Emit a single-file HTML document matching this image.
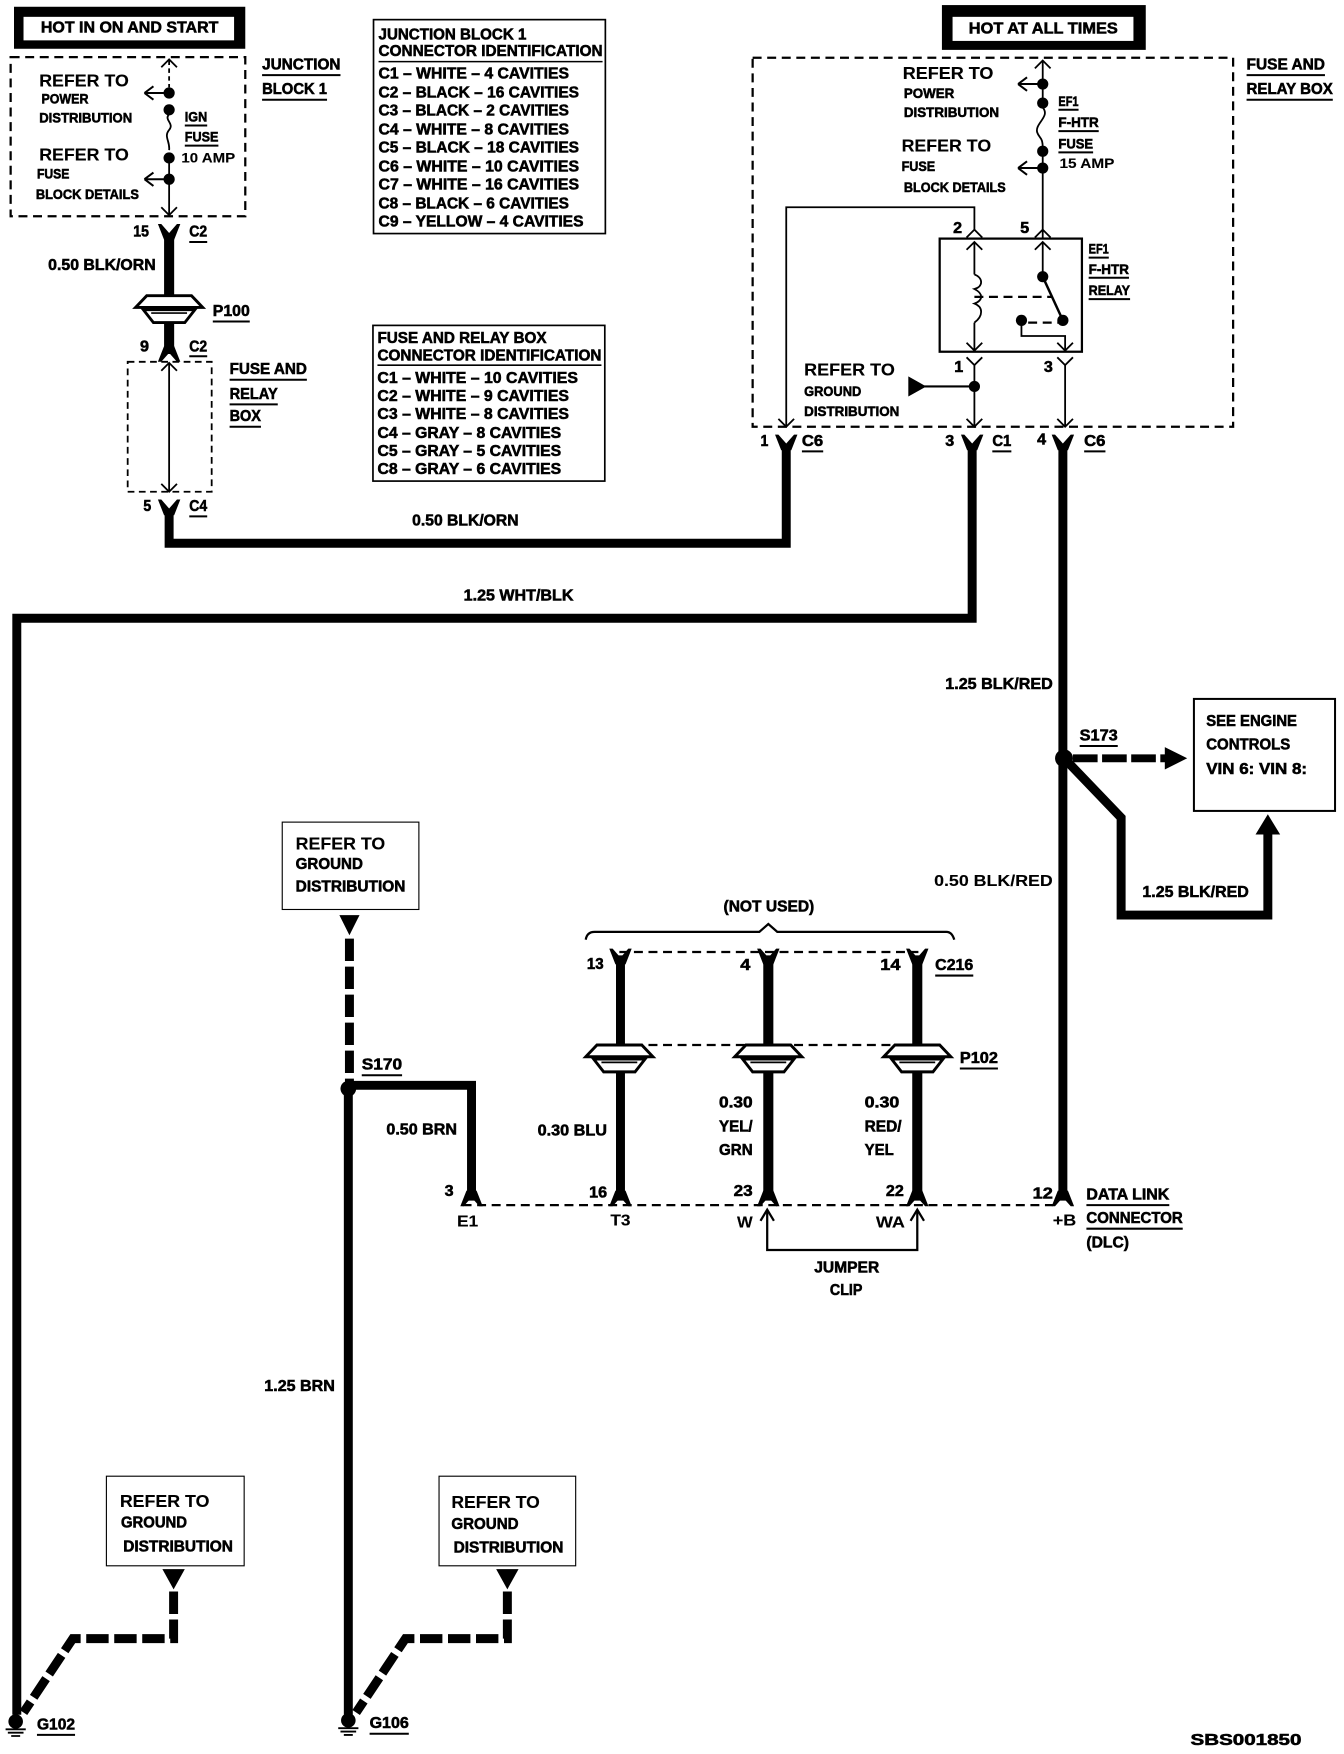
<!DOCTYPE html>
<html><head><meta charset="utf-8"><style>
html,body{margin:0;padding:0;background:#fff}
svg{display:block}
text{font-family:"Liberation Sans",sans-serif;font-weight:700;font-size:14px;fill:#000;stroke:#000;stroke-width:.5;dominant-baseline:central}
.s{font-size:12.5px}
.n{stroke-width:.1}
.l{fill:none;stroke:#000;stroke-width:1.6}
.w{fill:none;stroke:#000;stroke-width:8}
.u{fill:none;stroke:#000;stroke-width:1.8}
.d{fill:none;stroke:#000;stroke-width:2;stroke-dasharray:8 5}
.k{fill:none;stroke:#000;stroke-width:8;stroke-dasharray:20 5}
</style></head><body>
<svg width="1344" height="1754" viewBox="0 0 1200 1566" xmlns="http://www.w3.org/2000/svg">
<defs>
<polygon id="fd" points="-10,-8 -7,-8 0,0 7,-8 10,-8 4.5,6 -4.5,6 "/>
<polygon id="fu" points="-10,8 -7,8 0,0 7,8 10,8 4.5,-6 -4.5,-6"/>
<g id="plug">
<path d="M-30,-1 L-20,-11.500 L20,-11.500 L30,-1 Z" fill="#fff" stroke="#000" stroke-width="2.600"/>
<path d="M-23,1 L-14,12.500 L14,12.500 L23,1 Z" fill="#fff" stroke="#000" stroke-width="2.600"/>
<path d="M-16,4 H16" stroke="#000" stroke-width="1.500"/>
</g>
<path id="ul" d="M0,0 L-22,0 M-22,0 L-14,-6 M-22,0 L-14,6" fill="none" stroke="#000" stroke-width="1.800"/>
<path id="au" d="M-7,7 L0,0 L7,7" fill="none" stroke="#000" stroke-width="1.600"/>
<path id="ad" d="M-7,-7 L0,0 L7,-7" fill="none" stroke="#000" stroke-width="1.600"/>
<g id="gnd"><circle cx="0" cy="0" r="6.500"/><path d="M-9,7 H9 M-7,10 H7 M-4,13 H4" stroke="#000" stroke-width="1.600"/></g>
</defs>

<!-- HOT IN ON AND START -->
<rect x="12.500" y="6" width="206.500" height="37.500"/>
<rect x="21" y="15" width="188" height="21" fill="#fff"/>
<text x="36.500" y="25" textLength="158.500" lengthAdjust="spacingAndGlyphs">HOT IN ON AND START</text>

<!-- Junction block -->
<rect x="9.500" y="51" width="209.500" height="142" class="d"/>
<path d="M151,54 V78" class="l" stroke-dasharray="4 3"/>
<use href="#au" x="151" y="53"/>
<circle cx="151" cy="83" r="5"/><circle cx="151" cy="98" r="5"/>
<path d="M151,102 C146,107 156,110 151,116 C146,122 152,126 151,134" class="l"/>
<circle cx="151" cy="141" r="5"/><circle cx="151" cy="160" r="5"/>
<path d="M151,141 V192" class="l"/>
<use href="#ad" x="151" y="192"/>
<use href="#ul" x="151" y="83"/><use href="#ul" x="151" y="160"/>
<text x="35" y="72" textLength="80" lengthAdjust="spacingAndGlyphs" class="n" style="font-size:16px">REFER TO</text>
<text x="37" y="88" textLength="42" lengthAdjust="spacingAndGlyphs" class="s">POWER</text>
<text x="35" y="105" textLength="83" lengthAdjust="spacingAndGlyphs" class="s">DISTRIBUTION</text>
<text x="35" y="138" textLength="80" lengthAdjust="spacingAndGlyphs" class="n" style="font-size:16px">REFER TO</text>
<text x="33" y="155" textLength="29" lengthAdjust="spacingAndGlyphs" class="s">FUSE</text>
<text x="32" y="173" textLength="92" lengthAdjust="spacingAndGlyphs" class="s">BLOCK DETAILS</text>
<text x="165" y="104" textLength="20" lengthAdjust="spacingAndGlyphs" class="s">IGN</text><path d="M165,112 H185" class="u"/>
<text x="165" y="122" textLength="30" lengthAdjust="spacingAndGlyphs" class="s">FUSE</text><path d="M165,130 H195" class="u"/>
<text x="162" y="141" textLength="48" lengthAdjust="spacingAndGlyphs" class="n" style="font-size:12px">10 AMP</text>
<text x="234" y="58" textLength="70" lengthAdjust="spacingAndGlyphs">JUNCTION</text><path d="M234,67 H304" class="u"/>
<text x="234" y="80" textLength="58" lengthAdjust="spacingAndGlyphs">BLOCK 1</text><path d="M234,89 H292" class="u"/>

<!-- left wire 1 -->
<use href="#fd" x="151" y="208"/>
<path d="M151,208 V316" class="w" style="stroke-width:9"/>
<use href="#plug" x="151" y="275.500"/>
<use href="#fu" x="151" y="315"/>
<text x="119" y="207" textLength="14" lengthAdjust="spacingAndGlyphs">15</text>
<text x="169" y="207" textLength="16" lengthAdjust="spacingAndGlyphs">C2</text><path d="M169,216 H185" class="u"/>
<text x="43" y="237" textLength="96" lengthAdjust="spacingAndGlyphs">0.50 BLK/ORN</text>
<text x="190" y="278" textLength="33" lengthAdjust="spacingAndGlyphs">P100</text><path d="M190,287 H223" class="u"/>
<text x="125" y="310" textLength="8" lengthAdjust="spacingAndGlyphs">9</text>
<text x="169" y="310" textLength="16" lengthAdjust="spacingAndGlyphs">C2</text><path d="M169,318 H185" class="u"/>
<rect x="114" y="323" width="75" height="116" class="l" stroke-dasharray="6 4"/>
<path d="M151,324 V439" class="l"/>
<use href="#au" x="151" y="324"/><use href="#ad" x="151" y="439"/>
<text x="205" y="330" textLength="69" lengthAdjust="spacingAndGlyphs">FUSE AND</text><path d="M205,339 H274" class="u"/>
<text x="205" y="352" textLength="43" lengthAdjust="spacingAndGlyphs">RELAY</text><path d="M205,361 H248" class="u"/>
<text x="205" y="372" textLength="28" lengthAdjust="spacingAndGlyphs">BOX</text><path d="M205,381 H233" class="u"/>
<text x="128" y="452" textLength="7" lengthAdjust="spacingAndGlyphs">5</text>
<text x="169" y="452" textLength="16" lengthAdjust="spacingAndGlyphs">C4</text><path d="M169,461 H185" class="u"/>
<use href="#fd" x="151" y="454"/>
<path d="M151,454 V485 H702 V400" class="w"/>
<text x="368" y="465" textLength="95" lengthAdjust="spacingAndGlyphs">0.50 BLK/ORN</text>

<!-- Table 1 -->
<rect x="333.500" y="17.500" width="207" height="191" fill="none" stroke="#000" stroke-width="1.500"/>
<text x="338" y="31" textLength="132" lengthAdjust="spacingAndGlyphs">JUNCTION BLOCK 1</text>
<text x="338" y="46" textLength="200" lengthAdjust="spacingAndGlyphs">CONNECTOR IDENTIFICATION</text>
<path d="M338,55 H538" class="u" style="stroke-width:1.400"/>
<text x="338" y="66" textLength="170" lengthAdjust="spacingAndGlyphs">C1 – WHITE – 4 CAVITIES</text>
<text x="338" y="83" textLength="179" lengthAdjust="spacingAndGlyphs">C2 – BLACK – 16 CAVITIES</text>
<text x="338" y="99" textLength="170" lengthAdjust="spacingAndGlyphs">C3 – BLACK – 2 CAVITIES</text>
<text x="338" y="116" textLength="170" lengthAdjust="spacingAndGlyphs">C4 – WHITE – 8 CAVITIES</text>
<text x="338" y="132" textLength="179" lengthAdjust="spacingAndGlyphs">C5 – BLACK – 18 CAVITIES</text>
<text x="338" y="149" textLength="179" lengthAdjust="spacingAndGlyphs">C6 – WHITE – 10 CAVITIES</text>
<text x="338" y="165" textLength="179" lengthAdjust="spacingAndGlyphs">C7 – WHITE – 16 CAVITIES</text>
<text x="338" y="182" textLength="170" lengthAdjust="spacingAndGlyphs">C8 – BLACK – 6 CAVITIES</text>
<text x="338" y="198" textLength="183" lengthAdjust="spacingAndGlyphs">C9 – YELLOW – 4 CAVITIES</text>

<!-- Table 2 -->
<rect x="333" y="290.500" width="207" height="139" fill="none" stroke="#000" stroke-width="1.500"/>
<text x="337" y="302" textLength="151" lengthAdjust="spacingAndGlyphs">FUSE AND RELAY BOX</text>
<text x="337" y="318" textLength="200" lengthAdjust="spacingAndGlyphs">CONNECTOR IDENTIFICATION</text>
<path d="M337,326 H537" class="u" style="stroke-width:1.400"/>
<text x="337" y="338" textLength="179" lengthAdjust="spacingAndGlyphs">C1 – WHITE – 10 CAVITIES</text>
<text x="337" y="354" textLength="171" lengthAdjust="spacingAndGlyphs">C2 – WHITE – 9 CAVITIES</text>
<text x="337" y="370" textLength="171" lengthAdjust="spacingAndGlyphs">C3 – WHITE – 8 CAVITIES</text>
<text x="337" y="387" textLength="164" lengthAdjust="spacingAndGlyphs">C4 – GRAY – 8 CAVITIES</text>
<text x="337" y="403" textLength="164" lengthAdjust="spacingAndGlyphs">C5 – GRAY – 5 CAVITIES</text>
<text x="337" y="419" textLength="164" lengthAdjust="spacingAndGlyphs">C8 – GRAY – 6 CAVITIES</text>

<!-- HOT AT ALL TIMES -->
<rect x="841" y="4.500" width="182" height="40"/>
<rect x="850.500" y="15" width="161.500" height="21.500" fill="#fff"/>
<text x="865" y="26" textLength="133" lengthAdjust="spacingAndGlyphs">HOT AT ALL TIMES</text>

<!-- Fuse and relay box -->
<rect x="672" y="51.500" width="429" height="329.500" class="d"/>
<text x="1113" y="58" textLength="70" lengthAdjust="spacingAndGlyphs">FUSE AND</text><path d="M1113,67 H1183" class="u"/>
<text x="1113" y="80" textLength="77" lengthAdjust="spacingAndGlyphs">RELAY BOX</text><path d="M1113,89 H1190" class="u"/>
<path d="M931,54 V92 M931,135 V212" class="l"/>
<use href="#au" x="931" y="54"/>
<circle cx="931" cy="75" r="5"/><circle cx="931" cy="92" r="5"/>
<path d="M931,96 C938,104 924,110 926,118 C928,124 931,122 931,132" class="l"/>
<circle cx="931" cy="135" r="5"/><circle cx="931" cy="150" r="5"/>
<use href="#ul" x="931" y="75"/><use href="#ul" x="931" y="150"/>
<text x="806" y="65" textLength="81" lengthAdjust="spacingAndGlyphs" class="n" style="font-size:16px">REFER TO</text>
<text x="807" y="83" textLength="45" lengthAdjust="spacingAndGlyphs" class="s">POWER</text>
<text x="807" y="100" textLength="85" lengthAdjust="spacingAndGlyphs" class="s">DISTRIBUTION</text>
<text x="805" y="130" textLength="80" lengthAdjust="spacingAndGlyphs" class="n" style="font-size:16px">REFER TO</text>
<text x="805" y="148" textLength="30" lengthAdjust="spacingAndGlyphs" class="s">FUSE</text>
<text x="807" y="167" textLength="91" lengthAdjust="spacingAndGlyphs" class="s">BLOCK DETAILS</text>
<text x="945" y="90" textLength="18" lengthAdjust="spacingAndGlyphs" class="s">EF1</text><path d="M945,98 H963" class="u"/>
<text x="945" y="109" textLength="36" lengthAdjust="spacingAndGlyphs" class="s">F-HTR</text><path d="M945,117 H981" class="u"/>
<text x="945" y="128" textLength="31" lengthAdjust="spacingAndGlyphs" class="s">FUSE</text><path d="M945,136 H976" class="u"/>
<text x="946" y="146" textLength="49" lengthAdjust="spacingAndGlyphs" class="n" style="font-size:12px">15 AMP</text>

<path d="M702,381 V185 H870 V205" class="l"/>
<use href="#au" x="870" y="205"/><use href="#au" x="931" y="205"/>
<text x="851" y="204" textLength="8" lengthAdjust="spacingAndGlyphs">2</text>
<text x="911" y="204" textLength="8" lengthAdjust="spacingAndGlyphs">5</text>
<rect x="839" y="213" width="127" height="101" fill="none" stroke="#000" stroke-width="2"/>
<path d="M870,216 V245 M870,288 V313" class="l"/>
<use href="#au" x="870" y="216"/><use href="#au" x="931" y="216"/><use href="#ad" x="870" y="313"/><use href="#ad" x="951" y="313"/>
<path d="M870,245 C878,248 878,256 870,258 C878,262 878,268 870,271 C878,274 878,282 870,288" class="l"/>
<path d="M931,216 V247" class="l"/>
<circle cx="931" cy="247" r="5"/>
<path d="M931,247 L949,286" stroke="#000" stroke-width="2.200"/>
<circle cx="949" cy="286" r="5"/><circle cx="912" cy="286" r="5"/>
<path d="M870,265 H940 M918,288 H945" class="d" style="stroke-width:2"/>
<path d="M912,286 V300 H951 V314" class="l"/>
<text x="972" y="222" textLength="18" lengthAdjust="spacingAndGlyphs" class="s">EF1</text><path d="M972,230 H990" class="u"/>
<text x="972" y="240" textLength="36" lengthAdjust="spacingAndGlyphs" class="s">F-HTR</text><path d="M972,248 H1008" class="u"/>
<text x="972" y="259" textLength="37" lengthAdjust="spacingAndGlyphs" class="s">RELAY</text><path d="M972,267 H1009" class="u"/>
<use href="#ad" x="870" y="326"/><use href="#ad" x="951" y="326"/>
<path d="M870,326 V381 M951,326 V381" class="l"/>
<text x="852" y="328" textLength="8" lengthAdjust="spacingAndGlyphs">1</text>
<text x="932" y="328" textLength="8" lengthAdjust="spacingAndGlyphs">3</text>
<circle cx="870" cy="345" r="5"/>
<path d="M825,345 H870" stroke="#000" stroke-width="2"/>
<polygon points="811,336 811,354 827,345"/>
<text x="718" y="330" textLength="81" lengthAdjust="spacingAndGlyphs" class="n" style="font-size:16px">REFER TO</text>
<text x="718" y="349" textLength="51" lengthAdjust="spacingAndGlyphs" class="s">GROUND</text>
<text x="718" y="367" textLength="85" lengthAdjust="spacingAndGlyphs" class="s">DISTRIBUTION</text>
<use href="#ad" x="702" y="381"/><use href="#ad" x="870" y="381"/><use href="#ad" x="951" y="381"/>

<use href="#fd" x="702" y="396"/><use href="#fd" x="868" y="396"/><use href="#fd" x="949" y="396"/>
<text x="679" y="394" textLength="7" lengthAdjust="spacingAndGlyphs">1</text>
<text x="716" y="394" textLength="19" lengthAdjust="spacingAndGlyphs">C6</text><path d="M716,403 H735" class="u"/>
<text x="844" y="394" textLength="8" lengthAdjust="spacingAndGlyphs">3</text>
<text x="886" y="394" textLength="17" lengthAdjust="spacingAndGlyphs">C1</text><path d="M886,403 H903" class="u"/>
<text x="926" y="393" textLength="8" lengthAdjust="spacingAndGlyphs">4</text>
<text x="968" y="394" textLength="19" lengthAdjust="spacingAndGlyphs">C6</text><path d="M968,403 H987" class="u"/>

<!-- long wires -->
<path d="M868,400 V552 H15 V1531" class="w"/>
<text x="414" y="532" textLength="98" lengthAdjust="spacingAndGlyphs">1.25 WHT/BLK</text>
<path d="M949,400 V1072" class="w"/>
<text x="844" y="611" textLength="96" lengthAdjust="spacingAndGlyphs">1.25 BLK/RED</text>
<text x="834" y="787" textLength="106" lengthAdjust="spacingAndGlyphs" class="n" style="font-size:14px">0.50 BLK/RED</text>
<circle cx="950" cy="677" r="8"/>
<text x="964" y="657" textLength="34" lengthAdjust="spacingAndGlyphs">S173</text><path d="M964,666 H998" class="u"/>
<path d="M958,677 H1042" class="k" style="stroke-dasharray:22 4;stroke-width:7"/>
<polygon points="1040,667 1060,677 1040,687"/>
<path d="M954,681 L1001,730 V817 H1132 V742" class="w"/>
<polygon points="1121,745 1143,745 1132,727"/>
<text x="1020" y="797" textLength="95" lengthAdjust="spacingAndGlyphs">1.25 BLK/RED</text>
<rect x="1066" y="624" width="126" height="100" fill="none" stroke="#000" stroke-width="1.800"/>
<text x="1077" y="644" textLength="81" lengthAdjust="spacingAndGlyphs">SEE ENGINE</text>
<text x="1077" y="665" textLength="75" lengthAdjust="spacingAndGlyphs">CONTROLS</text>
<text x="1077" y="687" textLength="90" lengthAdjust="spacingAndGlyphs">VIN 6:  VIN 8:</text>

<!-- Ground distribution center -->
<rect x="252" y="734" width="122" height="78" fill="none" stroke="#000" stroke-width="1"/>
<text x="264" y="753" textLength="80" lengthAdjust="spacingAndGlyphs" class="n" style="font-size:16px">REFER TO</text>
<text x="264" y="772" textLength="60" lengthAdjust="spacingAndGlyphs">GROUND</text>
<text x="264" y="792" textLength="98" lengthAdjust="spacingAndGlyphs">DISTRIBUTION</text>
<polygon points="303,817 321,817 312,835"/>
<path d="M312,838 V968" class="k" style="stroke-dasharray:20 5"/>
<circle cx="311" cy="972" r="7"/>
<path d="M311,975 V1531" class="w"/>
<path d="M311,969 H421 V1072" class="w"/>
<text x="323" y="951" textLength="36" lengthAdjust="spacingAndGlyphs">S170</text><path d="M323,960 H359" class="u"/>
<text x="345" y="1009" textLength="63" lengthAdjust="spacingAndGlyphs">0.50 BRN</text>
<text x="397" y="1064" textLength="8" lengthAdjust="spacingAndGlyphs">3</text>
<text x="408" y="1091" textLength="19" lengthAdjust="spacingAndGlyphs" class="n">E1</text>
<text x="236" y="1238" textLength="63" lengthAdjust="spacingAndGlyphs">1.25 BRN</text>

<!-- C216 / P102 -->
<text x="646" y="810" textLength="81" lengthAdjust="spacingAndGlyphs">(NOT USED)</text>
<path d="M523,839 Q524,832 531,832 H678 L686,825 L694,832 H845 Q850,832 852,839" class="l" style="stroke-width:2"/>
<path d="M553,850 H820" class="d"/>
<path d="M553,933 H820" class="d"/>
<path d="M554,853 V1072" class="w" style="stroke-width:8"/>
<path d="M686,853 V1072" class="w" style="stroke-width:9"/>
<path d="M819,853 V1072" class="w" style="stroke-width:9"/>
<use href="#fd" x="554" y="855"/><use href="#fd" x="686" y="855"/><use href="#fd" x="819" y="855"/>
<use href="#plug" x="553" y="944.500"/><use href="#plug" x="686" y="944.500"/><use href="#plug" x="819" y="944.500"/>
<text x="524" y="861" textLength="15" lengthAdjust="spacingAndGlyphs">13</text>
<text x="661" y="862" textLength="9" lengthAdjust="spacingAndGlyphs">4</text>
<text x="786" y="862" textLength="18" lengthAdjust="spacingAndGlyphs">14</text>
<text x="835" y="862" textLength="34" lengthAdjust="spacingAndGlyphs">C216</text><path d="M835,871 H869" class="u"/>
<text x="857" y="945" textLength="34" lengthAdjust="spacingAndGlyphs">P102</text><path d="M857,954 H891" class="u"/>
<text x="480" y="1010" textLength="62" lengthAdjust="spacingAndGlyphs">0.30 BLU</text>
<text x="642" y="985" textLength="30" lengthAdjust="spacingAndGlyphs">0.30</text>
<text x="642" y="1006" textLength="30" lengthAdjust="spacingAndGlyphs">YEL/</text>
<text x="642" y="1027" textLength="30" lengthAdjust="spacingAndGlyphs">GRN</text>
<text x="772" y="985" textLength="31" lengthAdjust="spacingAndGlyphs">0.30</text>
<text x="772" y="1006" textLength="33" lengthAdjust="spacingAndGlyphs">RED/</text>
<text x="772" y="1027" textLength="26" lengthAdjust="spacingAndGlyphs">YEL</text>

<!-- DLC -->
<path d="M413,1076 H940" class="d"/>
<use href="#fu" x="421" y="1069"/><use href="#fu" x="554" y="1069"/><use href="#fu" x="686" y="1069"/><use href="#fu" x="819" y="1069"/><use href="#fu" x="949" y="1069"/>
<text x="526" y="1065" textLength="16" lengthAdjust="spacingAndGlyphs">16</text>
<text x="655" y="1064" textLength="17" lengthAdjust="spacingAndGlyphs">23</text>
<text x="791" y="1064" textLength="16" lengthAdjust="spacingAndGlyphs">22</text>
<text x="922" y="1066" textLength="18" lengthAdjust="spacingAndGlyphs">12</text>
<text x="545" y="1090" textLength="18" lengthAdjust="spacingAndGlyphs" class="n">T3</text>
<text x="658" y="1092" textLength="14" lengthAdjust="spacingAndGlyphs" class="n">W</text>
<text x="782" y="1092" textLength="26" lengthAdjust="spacingAndGlyphs" class="n">WA</text>
<text x="940" y="1090" textLength="21" lengthAdjust="spacingAndGlyphs" class="n">+B</text>
<text x="970" y="1067" textLength="74" lengthAdjust="spacingAndGlyphs">DATA LINK</text><path d="M970,1076 H1044" class="u"/>
<text x="970" y="1088" textLength="86" lengthAdjust="spacingAndGlyphs">CONNECTOR</text><path d="M970,1097 H1056" class="u"/>
<text x="970" y="1110" textLength="38" lengthAdjust="spacingAndGlyphs">(DLC)</text>
<path d="M685,1082 V1116 H819 V1082" class="u" style="stroke-width:2"/>
<path d="M679,1090 L685,1080 L691,1090 M813,1090 L819,1080 L825,1090" class="u" style="stroke-width:2"/>
<text x="727" y="1132" textLength="58" lengthAdjust="spacingAndGlyphs">JUMPER</text>
<text x="741" y="1152" textLength="29" lengthAdjust="spacingAndGlyphs">CLIP</text>

<!-- bottom refs -->
<rect x="95" y="1318" width="123" height="80" fill="none" stroke="#000" stroke-width="1"/>
<text x="107" y="1340" textLength="80" lengthAdjust="spacingAndGlyphs" class="n" style="font-size:16px">REFER TO</text>
<text x="108" y="1360" textLength="59" lengthAdjust="spacingAndGlyphs">GROUND</text>
<text x="110" y="1381" textLength="98" lengthAdjust="spacingAndGlyphs">DISTRIBUTION</text>
<polygon points="145,1401 165,1401 155,1419"/>
<path d="M155,1421 V1463 H65 L21,1529" class="k"/>
<use href="#gnd" x="14" y="1537"/>
<text x="33" y="1540" textLength="34" lengthAdjust="spacingAndGlyphs">G102</text><path d="M33,1549 H67" class="u"/>

<rect x="392" y="1318" width="122" height="80" fill="none" stroke="#000" stroke-width="1"/>
<text x="403" y="1341" textLength="79" lengthAdjust="spacingAndGlyphs" class="n" style="font-size:16px">REFER TO</text>
<text x="403" y="1361" textLength="60" lengthAdjust="spacingAndGlyphs">GROUND</text>
<text x="405" y="1382" textLength="98" lengthAdjust="spacingAndGlyphs">DISTRIBUTION</text>
<polygon points="443,1401 463,1401 453,1419"/>
<path d="M453,1421 V1463 H362 L318,1529" class="k"/>
<use href="#gnd" x="311" y="1536"/>
<text x="330" y="1539" textLength="35" lengthAdjust="spacingAndGlyphs">G106</text><path d="M330,1548 H365" class="u"/>

<text x="1063" y="1554" textLength="99" lengthAdjust="spacingAndGlyphs">SBS001850</text>
</svg>
</body></html>
